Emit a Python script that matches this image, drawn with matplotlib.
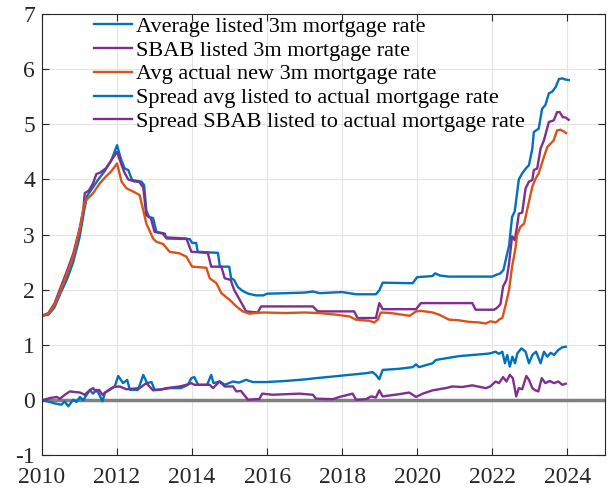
import matplotlib.pyplot as plt

plt.rcParams["font.family"] = ["Liberation Serif", "DejaVu Serif"]
plt.rcParams["axes.unicode_minus"] = False

# vertices (decimal year, percent)
avg_listed_t = [2010.0, 2010.17, 2010.33, 2010.5, 2010.67, 2010.83, 2011.0, 2011.14, 2011.2, 2011.35,
                2011.5, 2011.67, 2011.85, 2012.0, 2012.1, 2012.2, 2012.3, 2012.4, 2012.65, 2012.72,
                2012.78, 2012.85, 2012.96, 2013.05, 2013.27, 2013.32, 2013.94, 2014.0, 2014.11, 2014.15,
                2014.69, 2014.74, 2014.99, 2015.04, 2015.12, 2015.22, 2015.35, 2015.5, 2015.7, 2015.9,
                2016.0, 2016.5, 2017.0, 2017.22, 2017.4, 2018.0, 2018.37, 2018.9, 2018.99, 2019.08,
                2019.88, 2020.0, 2020.41, 2020.48, 2020.6, 2020.85, 2022.0, 2022.1, 2022.22, 2022.3,
                2022.36, 2022.45, 2022.53, 2022.6, 2022.71, 2022.8, 2022.9, 2022.98, 2023.07, 2023.11,
                2023.24, 2023.33, 2023.42, 2023.51, 2023.6, 2023.69, 2023.78, 2023.87, 2023.95, 2024.04]
avg_listed = [1.53, 1.55, 1.68, 1.95, 2.2, 2.5, 2.95, 3.5, 3.7, 3.85,
              4.0, 4.15, 4.35, 4.62, 4.38, 4.2, 4.17, 3.99, 3.96, 3.9,
              3.44, 3.32, 3.3, 3.05, 3.02, 2.93, 2.92, 2.85, 2.85, 2.69,
              2.67, 2.42, 2.42, 2.21, 2.18, 2.05, 1.98, 1.93, 1.9, 1.9,
              1.93, 1.94, 1.95, 1.97, 1.94, 1.96, 1.92, 1.92, 1.99, 2.13,
              2.12, 2.23, 2.25, 2.3, 2.26, 2.24, 2.24, 2.27, 2.3, 2.36,
              2.54, 2.8, 3.32, 3.42, 4.0, 4.11, 4.2, 4.26, 4.56, 4.86,
              4.92, 5.28, 5.35, 5.56, 5.59, 5.67, 5.82, 5.83, 5.81, 5.8]

sbab_listed_t = [2010.0, 2010.17, 2010.33, 2010.5, 2010.67, 2010.83, 2011.0, 2011.1, 2011.14, 2011.25,
                 2011.36, 2011.45, 2011.54, 2011.7, 2011.85, 2012.0, 2012.1, 2012.2, 2012.3, 2012.43,
                 2012.6, 2012.7, 2012.78, 2012.9, 2013.0, 2013.22, 2013.3, 2013.85, 2013.98, 2014.42,
                 2014.51, 2014.78, 2014.87, 2015.03, 2015.12, 2015.27, 2015.44, 2015.75, 2015.84, 2017.22,
                 2017.35, 2018.32, 2018.41, 2018.9, 2018.99, 2019.08, 2019.97, 2020.1, 2021.47, 2021.56,
                 2022.05, 2022.14, 2022.22, 2022.29, 2022.38, 2022.45, 2022.53, 2022.6, 2022.66, 2022.71,
                 2022.8, 2022.89, 2022.98, 2023.07, 2023.11, 2023.2, 2023.29, 2023.38, 2023.51, 2023.64,
                 2023.73, 2023.8, 2023.88, 2023.96, 2024.04]
sbab_listed = [1.53, 1.58, 1.75, 2.05, 2.35, 2.65, 3.1, 3.45, 3.75, 3.8,
               3.93, 4.1, 4.12, 4.2, 4.35, 4.5, 4.3, 4.12, 4.0, 3.97,
               3.95, 3.85, 3.35, 3.3, 3.05, 3.02, 2.95, 2.93, 2.69, 2.67,
               2.42, 2.42, 2.21, 2.18, 2.0, 1.82, 1.61, 1.59, 1.7, 1.7,
               1.61, 1.61, 1.49, 1.49, 1.76, 1.65, 1.65, 1.76, 1.76, 1.64,
               1.64, 1.68, 1.74, 2.06, 2.18, 2.48, 2.97, 2.9, 3.14, 3.38,
               3.4, 3.84, 3.96, 3.99, 4.17, 4.2, 4.56, 4.71, 5.04, 5.07,
               5.22, 5.22, 5.13, 5.12, 5.08]

actual_t = [2010.0, 2010.17, 2010.33, 2010.5, 2010.67, 2010.83, 2011.0, 2011.14, 2011.36, 2011.54,
            2011.7, 2011.85, 2012.0, 2012.12, 2012.25, 2012.43, 2012.6, 2012.7, 2012.78, 2012.96,
            2013.05, 2013.23, 2013.4, 2013.67, 2013.85, 2014.0, 2014.38, 2014.47, 2014.65, 2014.78,
            2015.0, 2015.18, 2015.35, 2015.53, 2015.89, 2016.5, 2017.0, 2017.39, 2017.84, 2018.19,
            2018.37, 2018.72, 2018.86, 2018.95, 2019.03, 2019.3, 2019.6, 2019.8, 2019.97, 2020.1,
            2020.41, 2020.59, 2020.85, 2021.1, 2021.38, 2021.65, 2021.83, 2021.95, 2022.1, 2022.2,
            2022.27, 2022.36, 2022.45, 2022.53, 2022.62, 2022.66, 2022.75, 2022.85, 2023.07, 2023.16,
            2023.24, 2023.38, 2023.47, 2023.56, 2023.64, 2023.73, 2023.82, 2023.91, 2023.97]
actual = [1.53, 1.57, 1.72, 2.0, 2.3, 2.6, 3.08, 3.6, 3.75, 3.93,
          4.05, 4.15, 4.29, 3.96, 3.84, 3.78, 3.72, 3.44, 3.2, 2.93,
          2.87, 2.83, 2.69, 2.66, 2.6, 2.42, 2.4, 2.21, 2.12, 1.94,
          1.82, 1.7, 1.61, 1.57, 1.59, 1.58, 1.59, 1.58, 1.55, 1.52,
          1.46, 1.44, 1.41, 1.46, 1.59, 1.58, 1.55, 1.53, 1.61, 1.62,
          1.59, 1.55, 1.46, 1.45, 1.42, 1.41, 1.39, 1.43, 1.41, 1.47,
          1.49, 1.73, 2.0, 2.42, 2.75, 2.99, 3.14, 3.2, 3.87, 4.02,
          4.11, 4.41, 4.59, 4.65, 4.71, 4.89, 4.9, 4.87, 4.84]

spread_avg_t = [2010.0, 2010.2, 2010.35, 2010.52, 2010.6, 2010.7, 2010.83, 2010.92, 2011.01, 2011.1,
                2011.19, 2011.28, 2011.36, 2011.45, 2011.53, 2011.61, 2011.68, 2011.81, 2011.94, 2012.03,
                2012.16, 2012.27, 2012.34, 2012.56, 2012.7, 2012.8, 2012.92, 2013.0, 2013.2, 2013.4,
                2013.7, 2013.89, 2013.98, 2014.06, 2014.16, 2014.4, 2014.51, 2014.57, 2014.75, 2014.87,
                2015.09, 2015.25, 2015.44, 2015.62, 2015.98, 2016.5, 2017.04, 2017.3, 2017.75, 2018.19,
                2018.64, 2018.81, 2018.9, 2018.99, 2019.08, 2019.52, 2019.88, 2019.97, 2020.05, 2020.41,
                2020.5, 2020.85, 2021.12, 2021.47, 2021.83, 2021.95, 2022.09, 2022.18, 2022.27, 2022.34,
                2022.4, 2022.47, 2022.54, 2022.61, 2022.67, 2022.78, 2022.89, 2022.98, 2023.07, 2023.17,
                2023.29, 2023.38, 2023.47, 2023.56, 2023.65, 2023.76, 2023.87, 2023.96]
spread_avg = [0.0, -0.03, -0.06, -0.08, -0.02, -0.11, 0.01, -0.03, 0.06, 0.0,
              0.1, 0.18, 0.12, 0.19, 0.1, -0.02, 0.14, 0.19, 0.25, 0.44,
              0.31, 0.37, 0.19, 0.19, 0.46, 0.31, 0.33, 0.19, 0.2, 0.22,
              0.22, 0.28, 0.4, 0.42, 0.28, 0.28, 0.46, 0.31, 0.34, 0.28,
              0.34, 0.32, 0.37, 0.33, 0.33, 0.35, 0.38, 0.4, 0.43, 0.46,
              0.49, 0.51, 0.46, 0.38, 0.55, 0.57, 0.6, 0.65, 0.6, 0.67,
              0.73, 0.77, 0.8, 0.82, 0.84, 0.85, 0.88, 0.84, 0.88, 0.67,
              0.82, 0.61, 0.79, 0.67, 0.85, 0.94, 0.88, 0.67, 0.82, 0.88,
              0.67, 0.88, 0.79, 0.86, 0.82, 0.91, 0.96, 0.97]

spread_sbab_t = [2010.0, 2010.21, 2010.39, 2010.48, 2010.61, 2010.74, 2011.01, 2011.14, 2011.28, 2011.36,
                 2011.44, 2011.52, 2011.61, 2011.72, 2011.9, 2012.07, 2012.25, 2012.6, 2012.78, 2012.96,
                 2013.15, 2013.32, 2013.67, 2013.85, 2013.98, 2014.06, 2014.47, 2014.56, 2014.73, 2014.87,
                 2015.09, 2015.18, 2015.3, 2015.49, 2015.71, 2015.79, 2015.87, 2016.15, 2016.86, 2017.22,
                 2017.3, 2017.75, 2017.93, 2018.28, 2018.37, 2018.64, 2018.77, 2018.9, 2018.99, 2019.08,
                 2019.52, 2019.79, 2019.97, 2020.15, 2020.41, 2020.76, 2020.94, 2021.2, 2021.47, 2021.83,
                 2021.95, 2022.09, 2022.18, 2022.29, 2022.38, 2022.47, 2022.55, 2022.64, 2022.71, 2022.8,
                 2022.91, 2022.98, 2023.07, 2023.15, 2023.23, 2023.32, 2023.42, 2023.53, 2023.65, 2023.76,
                 2023.87, 2023.96]
spread_sbab = [0.0, 0.04, 0.06, 0.03, 0.1, 0.16, 0.14, 0.1, 0.19, 0.22,
               0.16, 0.19, 0.1, 0.16, 0.24, 0.25, 0.2, 0.22, 0.31, 0.18,
               0.19, 0.22, 0.25, 0.28, 0.31, 0.28, 0.28, 0.22, 0.34, 0.25,
               0.25, 0.16, 0.17, 0.01, 0.02, 0.02, 0.12, 0.1, 0.12, 0.1,
               0.03, 0.02, 0.06, 0.12, 0.01, 0.02, 0.07, 0.05, 0.18, 0.07,
               0.11, 0.14, 0.06, 0.12, 0.18, 0.22, 0.25, 0.24, 0.27, 0.22,
               0.25, 0.34, 0.31, 0.42, 0.34, 0.46, 0.4, 0.07, 0.22, 0.2,
               0.44, 0.37, 0.22, 0.18, 0.16, 0.4, 0.31, 0.35, 0.31, 0.34,
               0.28, 0.3]

labels = ["Average listed 3m mortgage rate", "SBAB listed 3m mortgage rate",
          "Avg actual new 3m mortgage rate", "Spread avg listed to actual mortgage rate",
          "Spread SBAB listed to actual mortgage rate"]

blue = "#0072BD"
orange = "#D95319"
purple = "#7E2F8E"

fig = plt.figure(figsize=(6.09, 4.94), dpi=100)
ax = fig.add_axes([0.069, 0.078, 0.924, 0.894])

ax.axhline(0, color="#808080", lw=2.5, zorder=1.5)
ax.plot(avg_listed_t, avg_listed, color=blue, lw=1.7, label=labels[0])
ax.plot(sbab_listed_t, sbab_listed, color=purple, lw=1.7, label=labels[1])
ax.plot(actual_t, actual, color=orange, lw=1.7, label=labels[2])
ax.plot(spread_avg_t, spread_avg, color=blue, lw=1.7, label=labels[3])
ax.plot(spread_sbab_t, spread_sbab, color=purple, lw=1.7, label=labels[4])

ax.set_xlim(2010, 2025)
ax.set_ylim(-1, 7)
ax.set_xticks(range(2010, 2025, 2))
ax.set_yticks(range(-1, 8))
ax.grid(True, color="#e3e3e3", lw=0.8)
ax.set_axisbelow(True)
ax.tick_params(direction="in", top=True, right=True, length=5, width=0.8,
               labelsize=17, colors="#262626")
ax.tick_params(axis="x", pad=8)
ax.tick_params(axis="y", pad=5)
for s in ax.spines.values():
    s.set_color("#262626")
    s.set_linewidth(0.8)

ax.legend(loc="upper left", bbox_to_anchor=(0.077, 1.015), frameon=False, fontsize=16,
          handlelength=1.7, handletextpad=0.2, labelspacing=0.15, borderaxespad=0.0)

fig.savefig("out.png", dpi=100)
